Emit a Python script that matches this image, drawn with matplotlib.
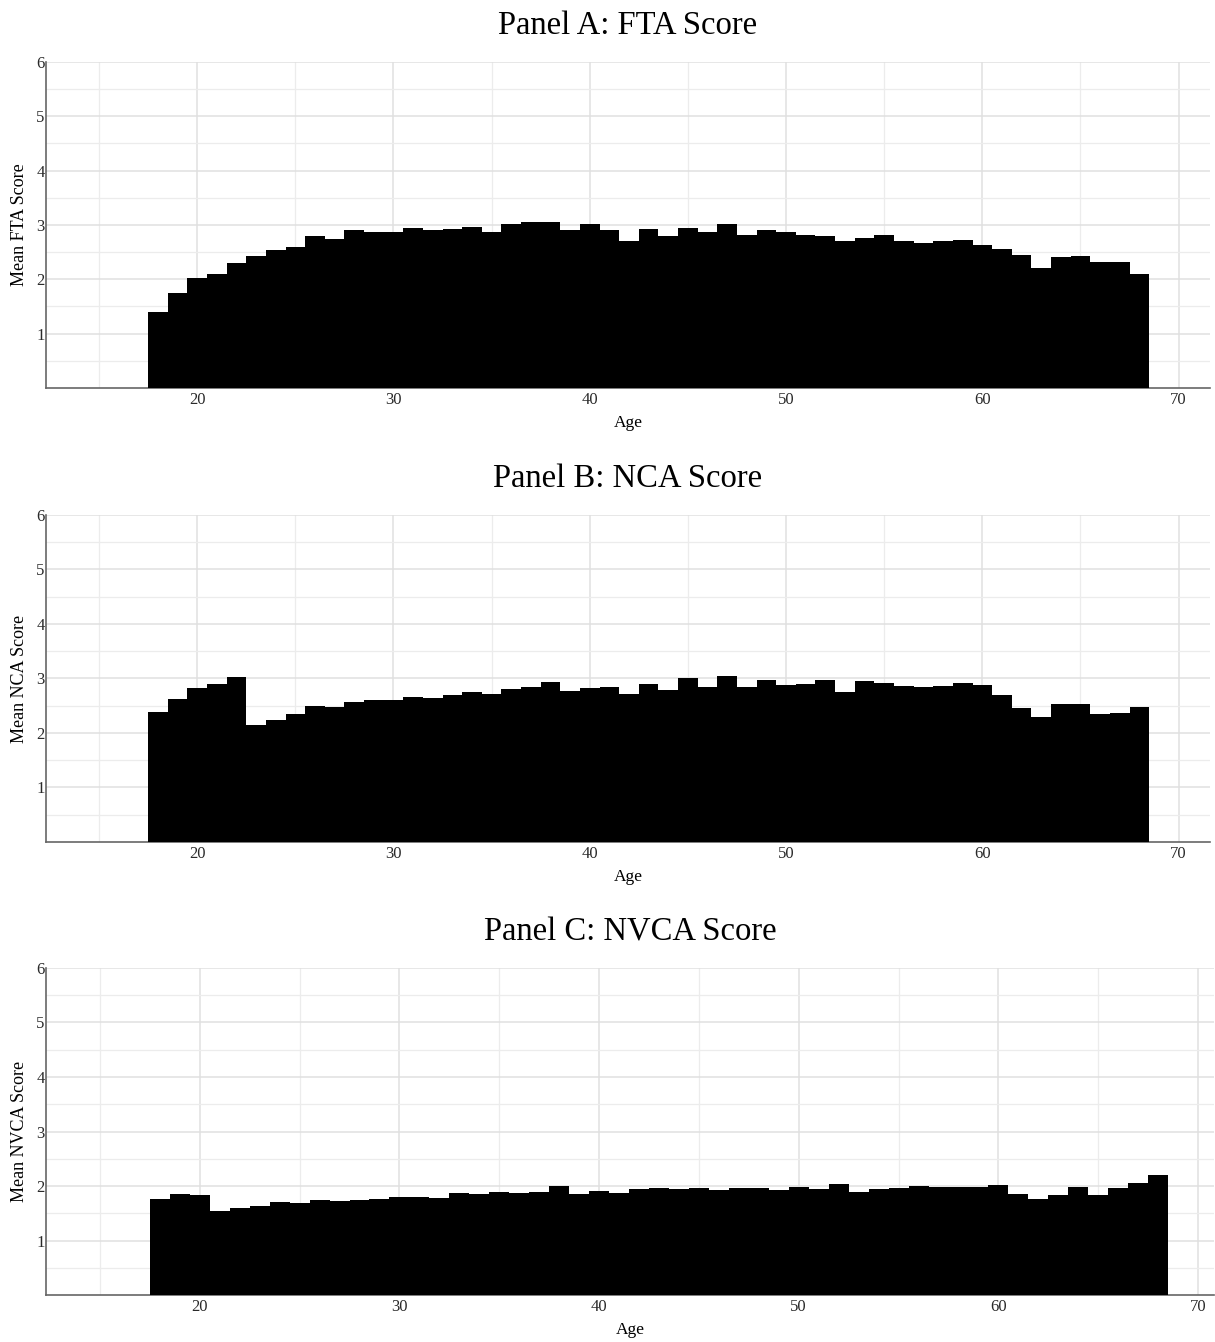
import matplotlib
matplotlib.use('Agg')
import matplotlib.pyplot as plt
import numpy as np

plt.rcParams['font.family'] = ['Liberation Serif', 'DejaVu Serif']

ages = list(range(18, 69))

# 平均分数 (按年龄)
fta = [1.39, 1.74, 2.02, 2.10, 2.30, 2.42, 2.54, 2.60, 2.79, 2.75,
       2.90, 2.88, 2.87, 2.94, 2.90, 2.93, 2.97, 2.87, 3.01, 3.05,
       3.05, 2.90, 3.02, 2.90, 2.71, 2.93, 2.79, 2.95, 2.87, 3.01,
       2.82, 2.90, 2.87, 2.81, 2.80, 2.70, 2.76, 2.81, 2.71, 2.67,
       2.71, 2.72, 2.64, 2.56, 2.44, 2.21, 2.41, 2.42, 2.32, 2.32,
       2.10]
nca = [2.39, 2.63, 2.83, 2.89, 3.02, 2.14, 2.24, 2.35, 2.50, 2.48,
       2.57, 2.60, 2.61, 2.66, 2.65, 2.70, 2.75, 2.72, 2.80, 2.85,
       2.94, 2.77, 2.83, 2.85, 2.72, 2.90, 2.79, 3.00, 2.85, 3.05,
       2.85, 2.98, 2.88, 2.90, 2.98, 2.76, 2.95, 2.92, 2.86, 2.85,
       2.86, 2.92, 2.88, 2.70, 2.46, 2.30, 2.54, 2.54, 2.35, 2.36,
       2.47]
nvca = [1.76, 1.85, 1.84, 1.55, 1.60, 1.64, 1.70, 1.68, 1.74, 1.73,
        1.75, 1.77, 1.79, 1.80, 1.78, 1.88, 1.86, 1.89, 1.87, 1.89,
        2.00, 1.85, 1.90, 1.87, 1.95, 1.97, 1.94, 1.97, 1.93, 1.97,
        1.97, 1.93, 1.99, 1.95, 2.04, 1.89, 1.95, 1.97, 2.00, 1.98,
        1.98, 1.99, 2.01, 1.86, 1.76, 1.84, 1.98, 1.84, 1.96, 2.06,
        2.21]

titles = ['Panel A: FTA Score', 'Panel B: NCA Score', 'Panel C: NVCA Score']
ylabels = ['Mean FTA Score', 'Mean NCA Score', 'Mean NVCA Score']
series = [fta, nca, nvca]

# 坐标轴位置 [left, bottom, width, height]
boxes = [[0.0379, 0.7109, 0.958, 0.2429],
         [0.0379, 0.3726, 0.958, 0.2437],
         [0.0379, 0.0350, 0.9613, 0.2437]]
xmax = [71.6, 71.6, 70.8]

fig = plt.figure(figsize=(12.15, 13.42), dpi=100)

for i in range(3):
    ax = fig.add_axes(boxes[i])
    ax.bar(ages, series[i], width=1.0, color='black', edgecolor='none', zorder=3)
    ax.set_xlim(12.3, xmax[i])
    ax.set_ylim(0, 6)
    ax.set_xticks([20, 30, 40, 50, 60, 70])
    ax.set_xticks([15, 25, 35, 45, 55, 65], minor=True)
    ax.set_yticks([1, 2, 3, 4, 5, 6])
    ax.set_yticks([0.5, 1.5, 2.5, 3.5, 4.5, 5.5], minor=True)
    ax.grid(which='major', color='#e0e0e0', lw=1.1, zorder=0)
    ax.grid(which='minor', color='#ececec', lw=0.9, zorder=0)
    ax.set_axisbelow(True)
    for s in ['top', 'right']:
        ax.spines[s].set_visible(False)
    for s in ['left', 'bottom']:
        ax.spines[s].set_color('#666666')
        ax.spines[s].set_linewidth(1.2)
    ax.tick_params(which='both', length=0, labelsize=12, labelcolor='#2a2a2a')
    ax.tick_params(axis='x', pad=3)
    ax.tick_params(axis='y', pad=1)
    ax.set_xlabel('Age', fontsize=12.5, labelpad=5)
    ax.set_ylabel(ylabels[i], fontsize=13, labelpad=6)
    ax.set_title(titles[i], fontsize=23.5, pad=20)

fig.savefig('out.png', dpi=100)
